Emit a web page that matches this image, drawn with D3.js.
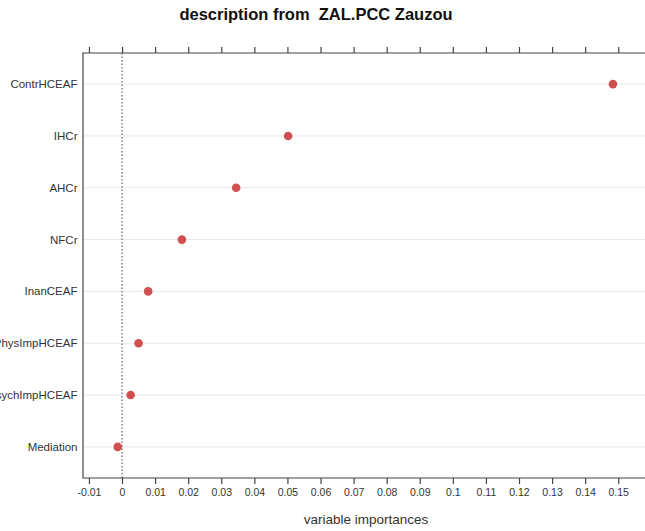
<!DOCTYPE html>
<html>
<head>
<meta charset="utf-8">
<script src="https://cdn.jsdelivr.net/npm/d3@7"></script>
<style>
  body { margin: 0; background: #fff; }
  svg { display: block; font-family: "Liberation Sans", Arial, sans-serif; }
</style>
</head>
<body>
<div id="chart"></div>
<script>
// variables, bottom to top as lattice draws them
const variables = ["Mediation", "PsychImpHCEAF", "PhysImpHCEAF", "InanCEAF", "NFCr", "AHCr", "IHCr", "ContrHCEAF"];
const importances = [-0.0013, 0.0026, 0.0050, 0.0079, 0.0181, 0.0345, 0.0502, 0.1484];
const tickValues = [-0.01, 0, 0.01, 0.02, 0.03, 0.04, 0.05, 0.06, 0.07, 0.08, 0.09, 0.1, 0.11, 0.12, 0.13, 0.14, 0.15];

const width = 645, height = 531;
const panelLeft = 83, panelTop = 53, panelBottom = 478;

const svg = d3.select("#chart").append("svg")
  .attr("width", width)
  .attr("height", height);

// x scale: 0.01 ~ 33px, panel runs off the right edge
const x = d3.scaleLinear()
  .domain([-0.0118, 0.165])
  .range([panelLeft, panelLeft + 0.1768 * 3308]);

const y = d3.scaleLinear()
  .domain([0.4, 8.6])
  .range([panelBottom, panelTop]);

const data = variables.map((v, i) => ({name: v, value: importances[i], pos: i + 1}));

// grid lines
svg.append("g")
  .selectAll("line")
  .data(data)
  .join("line")
  .attr("x1", panelLeft)
  .attr("x2", width)
  .attr("y1", d => y(d.pos))
  .attr("y2", d => y(d.pos))
  .attr("stroke", "#e8e8e8")
  .attr("stroke-width", 1);

// reference line at zero
svg.append("line")
  .attr("x1", x(0)).attr("x2", x(0))
  .attr("y1", panelTop).attr("y2", panelBottom)
  .attr("stroke", "#444")
  .attr("stroke-width", 1)
  .attr("stroke-dasharray", "1.5,2");

// panel border (left, top, bottom)
svg.append("path")
  .attr("d", `M${width + 5},${panelTop}H${panelLeft}V${panelBottom}H${width + 5}`)
  .attr("fill", "none")
  .attr("stroke", "#444")
  .attr("stroke-width", 1.2);

// bottom axis
const xAxis = svg.append("g")
  .attr("transform", `translate(0,${panelBottom})`)
  .call(d3.axisBottom(x).tickValues(tickValues).tickSize(6).tickPadding(5)
    .tickFormat(d => String(+d.toFixed(2))));
xAxis.select(".domain").remove();
xAxis.selectAll(".tick line").attr("stroke", "#444").attr("stroke-width", 1.2);
xAxis.selectAll(".tick text")
  .attr("fill", "#333")
  .style("font-family", "'Liberation Sans', Arial, sans-serif")
  .style("font-size", "10.5px");

// top axis: ticks only
const topAxis = svg.append("g")
  .attr("transform", `translate(0,${panelTop})`)
  .call(d3.axisTop(x).tickValues(tickValues).tickSize(6).tickFormat(""));
topAxis.select(".domain").remove();
topAxis.selectAll(".tick line").attr("stroke", "#444").attr("stroke-width", 1.2);

// variable labels
svg.append("g")
  .selectAll("text")
  .data(data)
  .join("text")
  .attr("x", panelLeft - 5.5)
  .attr("y", d => y(d.pos))
  .attr("dy", "0.35em")
  .attr("text-anchor", "end")
  .attr("fill", "#333")
  .style("font-size", "11.5px")
  .text(d => d.name);

// dots
svg.append("g")
  .selectAll("circle")
  .data(data)
  .join("circle")
  .attr("cx", d => x(d.value))
  .attr("cy", d => y(d.pos))
  .attr("r", 4.3)
  .attr("fill", "#d05050");

// title
svg.append("text")
  .attr("x", 316)
  .attr("y", 20)
  .attr("text-anchor", "middle")
  .attr("fill", "#111")
  .style("font-size", "16.5px")
  .style("font-weight", "bold")
  .style("white-space", "pre")
  .text("description from  ZAL.PCC Zauzou");

// x label
svg.append("text")
  .attr("x", 366)
  .attr("y", 524)
  .attr("text-anchor", "middle")
  .attr("fill", "#333")
  .style("font-size", "13.5px")
  .text("variable importances");
</script>
</body>
</html>
